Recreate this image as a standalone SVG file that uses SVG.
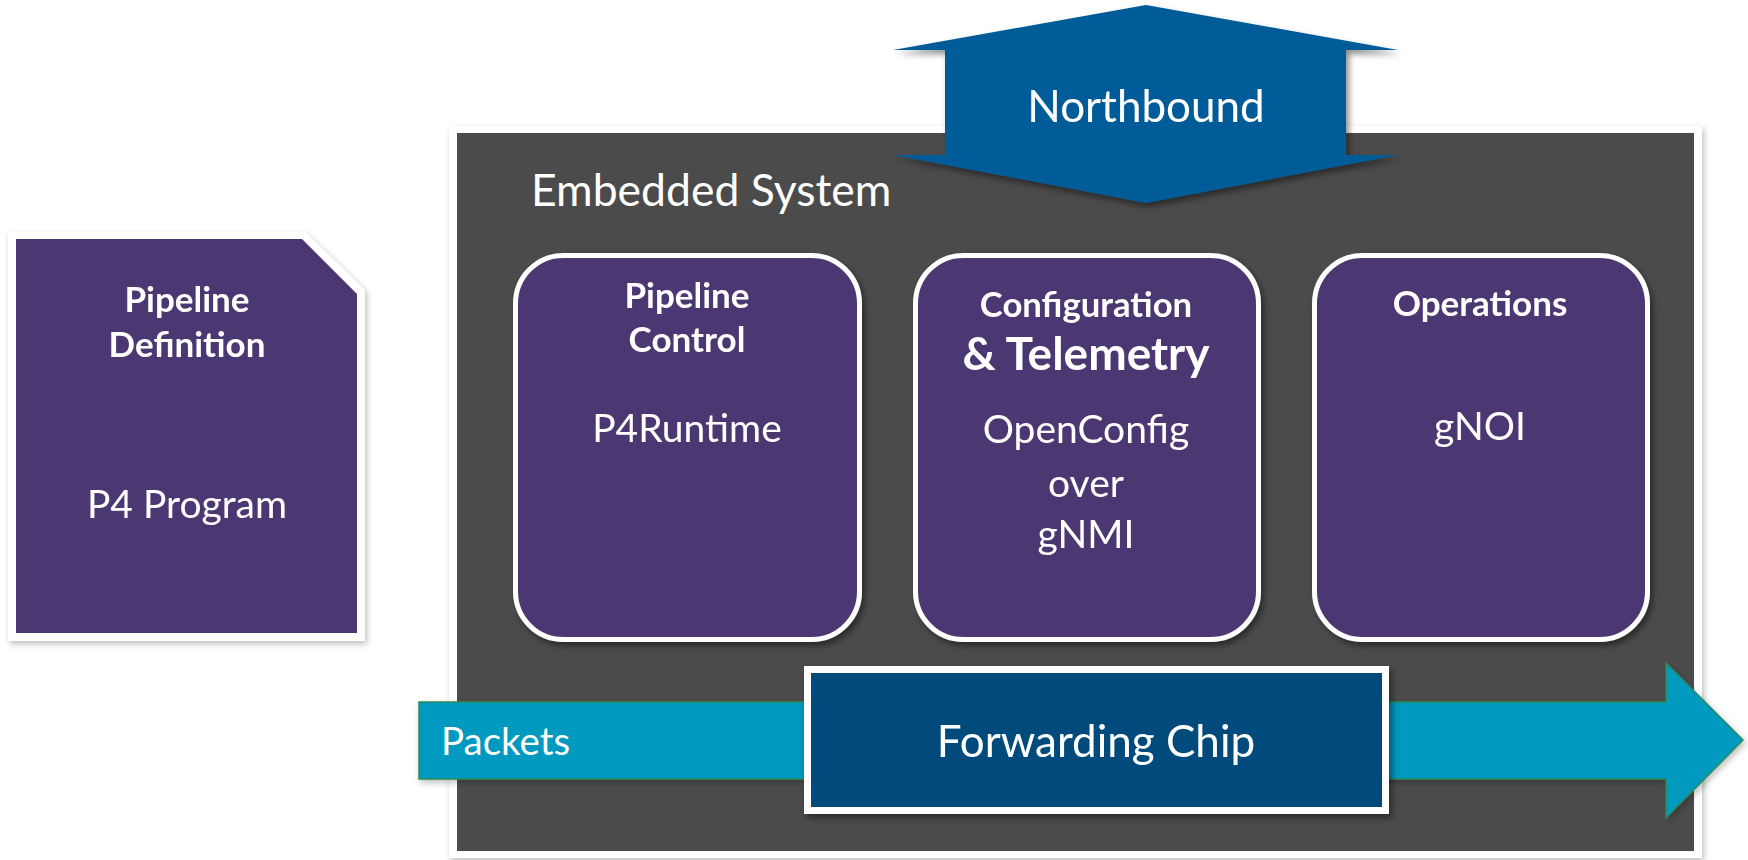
<svg xmlns="http://www.w3.org/2000/svg" width="1748" height="860" viewBox="0 0 1748 860">
<defs>
<filter id="sh" x="-10%" y="-10%" width="130%" height="130%">
<feDropShadow dx="3" dy="4" stdDeviation="3" flood-color="#000" flood-opacity="0.45"/>
</filter>
<filter id="shl" x="-5%" y="-5%" width="110%" height="110%">
<feDropShadow dx="2" dy="3" stdDeviation="3" flood-color="#000" flood-opacity="0.25"/>
</filter>
<style>
.t{font-family:Lato,"Open Sans","Liberation Sans",sans-serif;fill:#fff;text-anchor:middle}
.r{font-weight:400}
.b{font-weight:700}
.purple{fill:#4c3872}
.card{fill:#4c3872;stroke:#fff;stroke-width:5}
</style>
</defs>
<rect width="1748" height="860" fill="#fff"/>

<g id="p4-program" filter="url(#shl)">
<polygon points="8,232 305,232 365,290 365,641 8,641" fill="#fff"/>
<polygon class="purple" points="16,239 302,239 357,294 357,633 16,633"/>
<text class="t b" x="187" y="312" font-size="35">Pipeline</text>
<text class="t b" x="187" y="357" font-size="35">Definition</text>
<text class="t r" x="187" y="518" font-size="39">P4 Program</text>
</g>

<g id="embedded-system">
<rect x="449" y="126" width="1253" height="732" fill="#fff" filter="url(#shl)"/>
<rect x="457" y="133" width="1237" height="718" fill="#4b4b4b"/>
<text class="t r" x="531" y="206" font-size="44.5" style="text-anchor:start">Embedded System</text>
</g>

<g id="pipeline-control" filter="url(#sh)">
<rect class="card" x="515.5" y="255.5" width="344" height="384" rx="48"/>
<text class="t b" x="687" y="308" font-size="35">Pipeline</text>
<text class="t b" x="687" y="352" font-size="35">Control</text>
<text class="t r" x="687" y="442" font-size="39">P4Runtime</text>
</g>

<g id="config-telemetry" filter="url(#sh)">
<rect class="card" x="915.5" y="255.5" width="343" height="384" rx="48"/>
<text class="t b" x="1086" y="317" font-size="34.7">Configuration</text>
<text class="t b" x="1086" y="370" font-size="46">&amp; Telemetry</text>
<text class="t r" x="1086" y="443" font-size="39">OpenConfig</text>
<text class="t r" x="1086" y="497" font-size="39">over</text>
<text class="t r" x="1086" y="548" font-size="39">gNMI</text>
</g>

<g id="operations" filter="url(#sh)">
<rect class="card" x="1314.5" y="255.5" width="333" height="384" rx="48"/>
<text class="t b" x="1480" y="316" font-size="35">Operations</text>
<text class="t r" x="1480" y="440" font-size="39">gNOI</text>
</g>

<g id="connectors">
<g id="northbound" filter="url(#sh)">
<polygon points="1146,5 1398,50 1346,50 1346,155 1398,155 1146,203 893,155 945,155 945,50 893,50" fill="#035c99"/>
<text class="t r" x="1146" y="122" font-size="44">Northbound</text>
</g>
<g id="packets">
<polygon points="419,702 1666,702 1666,663 1743,740 1666,818 1666,779 419,779" fill="#0099bf" stroke="#2a8c5a" stroke-width="1.5" filter="url(#shl)"/>
<text class="t r" x="441" y="755" font-size="38.5" style="text-anchor:start">Packets</text>
</g>
</g>

<g id="forwarding-chip" filter="url(#sh)">
<rect x="804" y="666" width="585" height="148" fill="#fff"/>
<rect x="811" y="673" width="571" height="134" fill="#004b7b"/>
<text class="t r" x="1096" y="757" font-size="44">Forwarding Chip</text>
</g>
</svg>
